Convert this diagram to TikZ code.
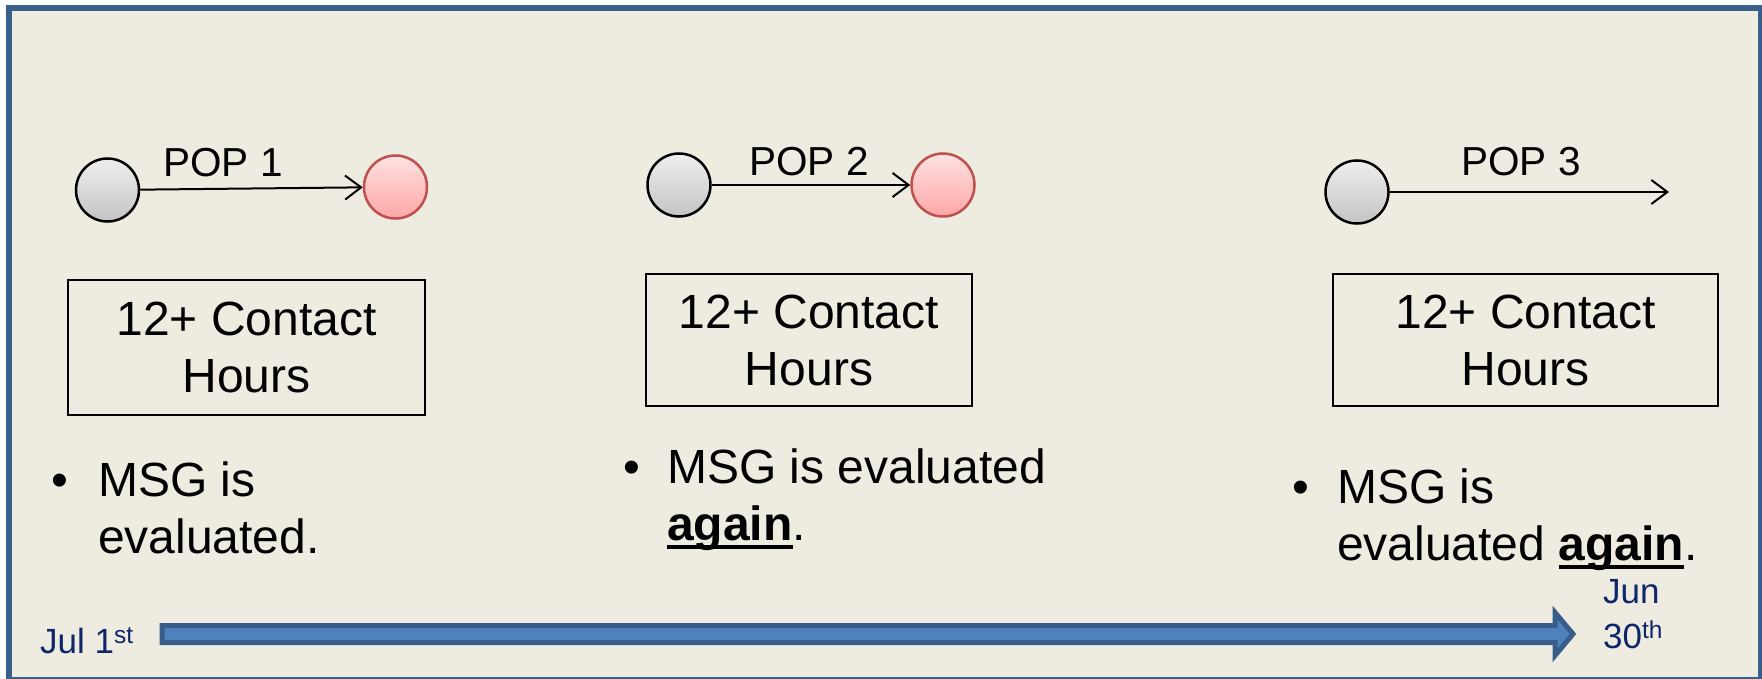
\documentclass[tikz,border=0pt]{standalone}
\usepackage{fontspec}
\setmainfont{Liberation Sans}
\usetikzlibrary{arrows.meta}
\definecolor{bg}{HTML}{EEECE1}
\definecolor{framec}{HTML}{3A5F8B}
\definecolor{arrfill}{HTML}{4F81BD}
\definecolor{arrline}{HTML}{385D8A}
\definecolor{navy}{HTML}{10266A}
\definecolor{redline}{HTML}{C0504D}
\definecolor{graytop}{HTML}{EEEEEE}
\definecolor{graybot}{HTML}{C4C4C4}
\definecolor{redtop}{HTML}{FFE2E2}
\definecolor{redbot}{HTML}{FFA6A6}
\newsavebox\ulbox
\newcommand\ulbold[1]{\sbox\ulbox{\bfseries #1}\rlap{\rule[-9pt]{\wd\ulbox}{4pt}}\usebox\ulbox}
\begin{document}
\begin{tikzpicture}[x=1pt,y=-1pt,
  startpt/.style={circle, draw=black, line width=2.5pt, minimum size=63pt, inner sep=0pt, top color=graytop, bottom color=graybot},
  finishpt/.style={circle, draw=redline, line width=2.5pt, minimum size=63pt, inner sep=0pt, top color=redtop, bottom color=redbot},
  link/.style={-{Straight Barb[length=16pt,width=24pt]}, line width=2pt},
  poplabel/.style={font=\fontsize{40.5}{48}\selectfont, anchor=base, inner sep=0pt},
  contact/.style={draw=black, line width=2pt, align=center, inner sep=0pt, font=\fontsize{48}{57}\selectfont},
  txt/.style={font=\fontsize{48}{57}\selectfont, anchor=base west, inner sep=0pt},
  bul/.style={font=\fontsize{48}{57}\selectfont, anchor=base, inner sep=0pt},
  datelbl/.style={font=\fontsize{35}{45}\selectfont, text=navy, anchor=base west, inner sep=0pt}
]
\useasboundingbox (0,0) rectangle (1762,679);
\clip (0,0) rectangle (1762,679);
\fill[white] (0,0) rectangle (1762,679);
\draw[framec, line width=6pt, fill=bg] (9,8) rectangle (1761,680);

% POP 1
\node[startpt] (g1) at (107.5,190) {};
\node[finishpt] (r1) at (395.5,187) {};
\draw[link] (g1) -- (r1);
\node[poplabel] (p1) at (223,177) {POP 1};

% POP 2
\node[startpt] (g2) at (679,185) {};
\node[finishpt] (r2) at (943,185) {};
\draw[link] (g2) -- (r2);
\node[poplabel] (p2) at (809,176) {POP 2};

% POP 3
\node[startpt] (g3) at (1357,192) {};
\coordinate (e3) at (1669,192);
\draw[link] (g3) -- (e3);
\node[poplabel] (p3) at (1521,176) {POP 3};

% boxes
\node[contact, minimum width=357pt, minimum height=135pt] (b1) at (246.5,347.5) {12+ Contact\\Hours};
\node[contact, minimum width=326pt, minimum height=132pt] (b2) at (809,340) {12+ Contact\\Hours};
\node[contact, minimum width=385pt, minimum height=132pt] (b3) at (1525.5,340) {12+ Contact\\Hours};

% bullets
\node[bul] (d1) at (60,496) {\textbullet};
\node[txt] (t1a) at (98,496) {MSG is};
\node[txt] (t1b) at (98,553) {evaluated.};
\node[bul] (d2) at (632,483) {\textbullet};
\node[txt] (t2a) at (667,483) {MSG is evaluated};
\node[txt] (t2b) at (667,540) {\ulbold{again}.};
\node[bul] (d3) at (1301,503) {\textbullet};
\node[txt] (t3a) at (1337,503) {MSG is};
\node[txt] (t3b) at (1337,560) {evaluated \ulbold{again}.};

% timeline
\draw[arrline, fill=arrfill, line width=5pt, line join=miter]
  (162,625.5) -- (1555,625.5) -- (1555,612.5) -- (1573,634) -- (1555,655.5) -- (1555,642.5) -- (162,642.5) -- cycle;
\node[datelbl] (jul) at (40,653) {Jul 1\textsuperscript{st}};
\node[datelbl] (jun) at (1603,603) {Jun};
\node[datelbl] (jun2) at (1603,648) {30\textsuperscript{th}};
\end{tikzpicture}
\end{document}
